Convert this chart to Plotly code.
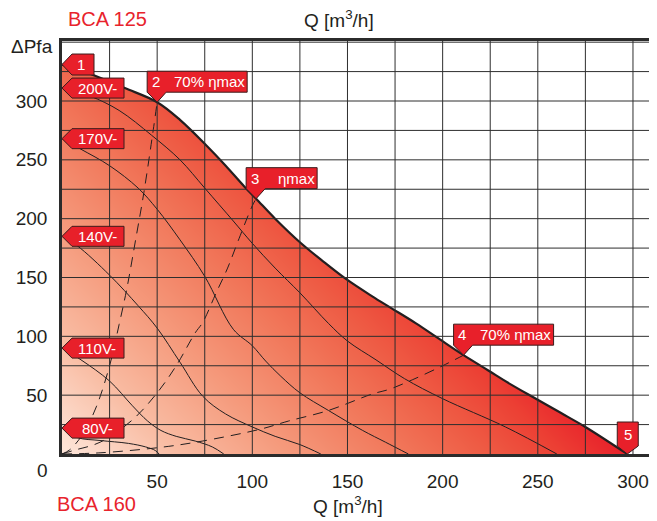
import numpy as np
import plotly.graph_objects as go

# ---------------- data ----------------
# outer envelope (max curve)
env_q = [0, 15, 33, 50, 62, 76, 86, 96, 102, 112, 125, 137, 149, 163, 173, 186, 198, 211, 224, 236, 249, 262, 275, 297]
env_p = [331, 323, 311, 299, 284, 262, 245, 227, 217, 200, 180, 164, 149, 134, 124, 111, 98, 84, 71, 59, 47, 35, 23, 0]

# speed curves
v200_q = [0, 15, 30, 47, 62, 75, 90, 100, 112, 125, 140, 150, 165, 180, 200, 233, 260]
v200_p = [311, 304, 292, 271, 250, 226, 198, 179, 158, 137, 111, 96, 80, 64, 47, 23, 0]
v170_q = [0, 10, 25, 40, 50, 62, 75, 90, 100, 107, 115, 125, 140, 158, 170, 182]
v170_p = [268, 259, 245, 226, 208, 182, 151, 106, 92, 79, 66, 52, 37, 20, 10, 0]
v140_q = [0, 8, 25, 40, 50, 62, 74, 86, 100, 112, 125, 136]
v140_p = [185, 177, 152, 126, 107, 78, 49, 34, 23, 15, 8, 0]
v110_q = [0, 10, 25, 37, 45, 52, 60, 70, 79, 85]
v110_p = [90, 80, 62, 41, 28, 20, 15, 11, 6, 0]
v80_q = [0, 8, 20, 35, 44, 49, 51]
v80_p = [22, 14, 11.5, 9, 6, 3, 0]

speed_labels = ["200V-", "170V-", "140V-", "110V-", "80V-"]

# efficiency (dashed) lines
eff1_q = [0, 4, 11, 18, 25, 30, 34, 39, 43, 48, 50]
eff1_p = [0, 3.5, 17, 40, 75, 110, 140, 185, 222, 276, 299]
eff2_q = [0, 6, 20, 37, 50, 60, 70, 74, 81, 87, 93, 100, 102]
eff2_p = [0, 3, 10, 29, 52, 75, 103, 112, 137, 158, 183, 211, 217]
eff3_q = [0, 20, 51, 72, 104, 119, 140, 163, 172, 184, 200, 211]
eff3_p = [0, 1, 5.5, 10.5, 21, 28, 37, 51, 55, 63, 75, 84]

# numbered points on the envelope
point_names = ["1", "2", "3", "4", "5"]
point_text = ["", "70% ηmax", "ηmax", "70% ηmax", ""]
point_q = [0, 50, 102, 211, 297]
point_p = [331, 299, 217, 84, 0]

x_ticks = [50, 100, 150, 200, 250, 300]
y_ticks = [50, 100, 150, 200, 250, 300]

# ---------------- styling ----------------
FONT = "Liberation Sans, Arial, sans-serif"
INK = "#231f20"
RED = "#e8202a"
XMAX, YMAX = 310, 351
OFF = 8                      # default page margin of the html body
W, H = 649, 513
ML, MR, MT, MB = 54, 2, 33, 67
PW, PH = W - ML - MR, H - MT - MB
PX_X = PW / XMAX
PX_Y = PH / YMAX


def px2paper(px, py):
    """page pixel -> paper coordinates"""
    return (px - OFF - ML) / PW, (H - MB - (py - OFF)) / PH


fig = go.Figure()

# diagonal gradient for the operating area
gx = np.linspace(0, XMAX, 63)
gy = np.linspace(0, YMAX, 72)
Z = gx[None, :] * PX_X + gy[:, None] * PX_Y
fig.add_trace(go.Heatmap(
    x=gx, y=gy, z=Z, zsmooth="best", zmin=0, zmax=570, showscale=False, hoverinfo="skip",
    colorscale=[[0, "#fde6da"], [0.2, "#f9bda4"], [0.4, "#f59a7c"], [0.6, "#f1775a"],
                [0.75, "#ee5b44"], [0.88, "#ec4034"], [1, "#e8202a"]]))

# envelope (reference for mask) + white mask above it
fig.add_trace(go.Scatter(x=env_q, y=env_p, mode="lines", line=dict(width=0, shape="spline"),
                         hoverinfo="skip", showlegend=False))
fig.add_trace(go.Scatter(x=[0, XMAX, XMAX], y=[YMAX, YMAX, 0], mode="lines", fill="tonexty",
                         fillcolor="white", line=dict(width=0), hoverinfo="skip", showlegend=False))

for q, p in [(v200_q, v200_p), (v170_q, v170_p), (v140_q, v140_p), (v110_q, v110_p), (v80_q, v80_p)]:
    fig.add_trace(go.Scatter(x=q, y=p, mode="lines", line=dict(color=INK, width=1, shape="spline"),
                             hoverinfo="skip", showlegend=False))

for q, p in [(eff1_q, eff1_p), (eff2_q, eff2_p), (eff3_q, eff3_p)]:
    fig.add_trace(go.Scatter(x=q, y=p, mode="lines",
                             line=dict(color=INK, width=1, dash="10px,7px", shape="spline"),
                             hoverinfo="skip", showlegend=False))

fig.add_trace(go.Scatter(x=env_q, y=env_p, mode="lines", line=dict(color=INK, width=2.2, shape="spline"),
                         hoverinfo="skip", showlegend=False))

shapes = []
GRID = "#2e2e2e"
for v in np.arange(25, XMAX, 25):
    shapes.append(dict(type="line", xref="x", yref="paper", x0=v, x1=v, y0=0, y1=1,
                       line=dict(color=GRID, width=1), layer="above"))
for h in np.arange(25, YMAX, 25):
    shapes.append(dict(type="line", xref="paper", yref="y", x0=0, x1=1, y0=h, y1=h,
                       line=dict(color=GRID, width=1), layer="above"))

annotations = []
CALL_LINE = dict(color="#3b1c1c", width=1)
CALL_FONT = dict(family=FONT, size=15, color="white")

# speed labels (left-pointing tags at start of each curve)
for name, p in zip(speed_labels, [v200_p, v170_p, v140_p, v110_p, v80_p]):
    shapes.append(dict(type="path", xref="x", yref="y", xsizemode="pixel", ysizemode="pixel",
                       xanchor=0, yanchor=p[0], path="M0,0 L10,10 L62,10 L62,-10 L10,-10 Z",
                       fillcolor=RED, line=CALL_LINE, layer="above"))
    annotations.append(dict(x=0, y=p[0], xref="x", yref="y", text=name, showarrow=False,
                            xanchor="center", yanchor="middle", xshift=35, font=CALL_FONT))

# numbered point tags
for i, (n, t, q, p) in enumerate(zip(point_names, point_text, point_q, point_p)):
    if i == 0:
        path = "M0,0 L10,10.5 L32,10.5 L32,-10.5 L10,-10.5 Z"
        annotations.append(dict(x=q, y=p, xref="x", yref="y", text=n, showarrow=False,
                                xanchor="center", yanchor="middle", xshift=19, font=CALL_FONT))
    elif i == 4:
        path = "M0,0 L-10,8 L-10,32 L11,32 L11,8 Z"
        annotations.append(dict(x=q, y=p, xref="x", yref="y", text=n, showarrow=False,
                                xanchor="center", yanchor="middle", xshift=0.5, yshift=20, font=CALL_FONT))
    else:
        wid = 90 if i != 2 else 61
        path = f"M0,0 L-10,10 L-10,31 L{wid},31 L{wid},10 L9,10 Z"
        annotations.append(dict(x=q, y=p, xref="x", yref="y", text=n, showarrow=False,
                                xanchor="center", yanchor="middle", xshift=-1.5, yshift=20.5, font=CALL_FONT))
        annotations.append(dict(x=q, y=p, xref="x", yref="y", text=t, showarrow=False,
                                xanchor="center", yanchor="middle",
                                xshift=52 if i != 2 else 40, yshift=20.5, font=CALL_FONT))
    shapes.append(dict(type="path", xref="x", yref="y", xsizemode="pixel", ysizemode="pixel",
                       xanchor=q, yanchor=p, path=path, fillcolor=RED, line=CALL_LINE, layer="above"))

# titles / corner labels
TXT = dict(family=FONT, size=19, color=INK)
RTXT = dict(family=FONT, size=20, color="#e8232c")


def label(text, px, py, font):
    xp, yp = px2paper(px, py)
    return dict(x=xp, y=yp, xref="paper", yref="paper", text=text, showarrow=False,
                xanchor="center", yanchor="middle", font=font)


annotations += [
    label("BCA 125", 108, 19, RTXT),
    label("BCA 160", 97, 504, RTXT),
    label("Q [m<sup>3</sup>/h]", 340, 19, TXT),
    label("Q [m<sup>3</sup>/h]", 349, 505, TXT),
    label("ΔPfa", 32, 46, TXT),
    dict(x=0, y=0, xref="x", yref="y", text="0", showarrow=False, xanchor="center", yanchor="middle",
         xshift=-20, yshift=-16, font=TXT),
]

axis_common = dict(showgrid=False, zeroline=False, showline=True, mirror=True, linecolor="#2b2b2b",
                   linewidth=2.5, ticks="", tickfont=dict(family=FONT, size=19, color=INK),
                   ticklabelstandoff=8, fixedrange=True)

fig.update_layout(
    width=W, height=H, margin=dict(l=ML, r=MR, t=MT, b=MB),
    paper_bgcolor="white", plot_bgcolor="white", showlegend=False,
    xaxis=dict(range=[0, XMAX], tickvals=x_ticks, ticktext=[str(v) for v in x_ticks], **axis_common),
    yaxis=dict(range=[0, YMAX], tickvals=y_ticks, ticktext=[str(v) for v in y_ticks], **axis_common),
    shapes=shapes, annotations=annotations,
)

fig.write_html("out.html")
